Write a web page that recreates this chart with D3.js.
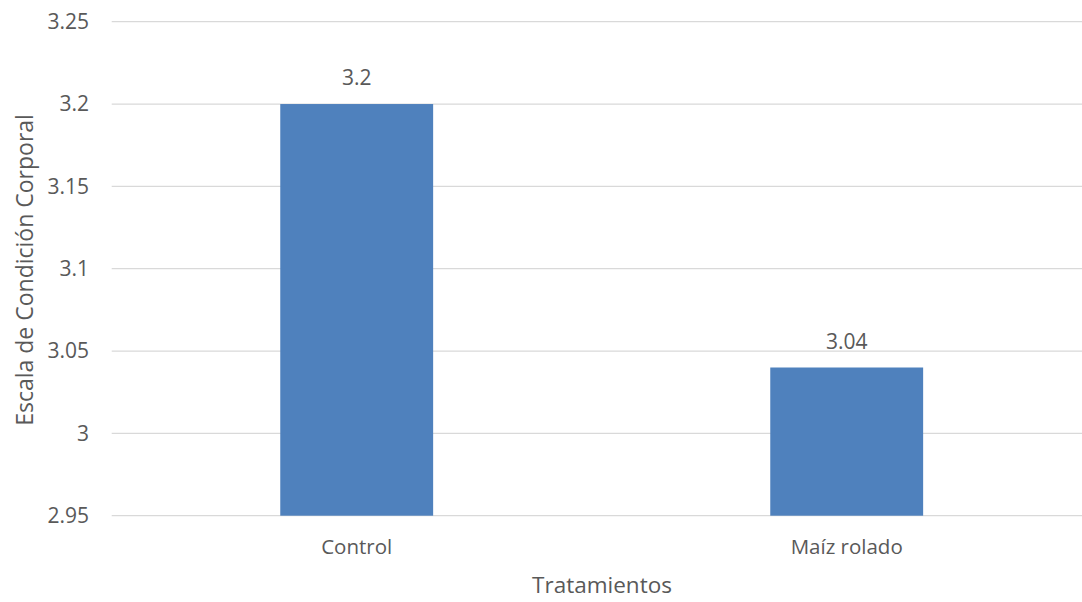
<!DOCTYPE html>
<html><head><meta charset="utf-8">
<script src="https://cdn.jsdelivr.net/npm/d3@7"></script>
<style>body{margin:0;background:#fff;} text{font-family:"Open Sans","Noto Sans",sans-serif;fill:#595959;}</style>
</head><body>
<svg id="c" width="1082" height="602"></svg>
<script>
const categories = ["Control", "Maíz rolado"];
const values = [3.2, 3.04];
const valueLabels = ["3.2", "3.04"];
const yTicks = [2.95, 3, 3.05, 3.1, 3.15, 3.2, 3.25];
const yTickLabels = ["2.95", "3", "3.05", "3.1", "3.15", "3.2", "3.25"];
const xTitle = "Tratamientos";
const yTitle = "Escala de Condición Corporal";

(function(){
const svg = d3.select("#c");
const pL = 111.7, pR = 1091.7, pT = 21.7, pB = 515.7;
const FONT = '"Open Sans","Noto Sans",sans-serif';
const x = d3.scaleBand().domain(categories).range([pL, pR]).paddingInner(0.688).paddingOuter(0.344);
const y = d3.scaleLinear().domain([2.95, 3.25]).range([pB, pT]);

// gridlines
svg.append("g").selectAll("line").data(yTicks).join("line")
  .attr("x1", pL).attr("x2", 1082)
  .attr("y1", d => y(d)).attr("y2", d => y(d))
  .attr("stroke", "#d9d9d9").attr("stroke-width", 1.3);

// y axis labels
const yAxis = d3.axisLeft(y).tickValues(yTicks).tickFormat((d,i) => yTickLabels[i]).tickSize(0).tickPadding(0);
const ga = svg.append("g").attr("transform", `translate(89,0)`).call(yAxis);
ga.select(".domain").remove();
ga.selectAll("text").attr("font-size", 21).attr("fill", "#595959").style("font-family", FONT);

// bars
svg.append("g").selectAll("rect").data(values).join("rect")
  .attr("x", (d,i) => x(categories[i]))
  .attr("width", x.bandwidth())
  .attr("y", d => y(d))
  .attr("height", d => y(2.95) - y(d))
  .attr("fill", "#4f81bd");

// value labels
svg.append("g").selectAll("text").data(values).join("text")
  .attr("x", (d,i) => x(categories[i]) + x.bandwidth()/2)
  .attr("y", d => y(d) - 19)
  .attr("text-anchor", "middle").attr("font-size", 21)
  .text((d,i) => valueLabels[i]);

// x axis labels
const xAxis = d3.axisBottom(x).tickSize(0).tickPadding(0);
const gx = svg.append("g").attr("transform", `translate(0,554)`).call(xAxis);
gx.select(".domain").remove();
gx.selectAll("text").attr("font-size", 20.5).attr("fill", "#595959").attr("dy", 0).style("font-family", FONT);

// titles
svg.append("text").attr("x", 602).attr("y", 593).attr("text-anchor", "middle").attr("font-size", 22.5).text(xTitle);
svg.append("text").attr("transform", "translate(33,270) rotate(-90)").attr("text-anchor", "middle").attr("font-size", 23).text(yTitle);
})();
</script>
</body></html>
